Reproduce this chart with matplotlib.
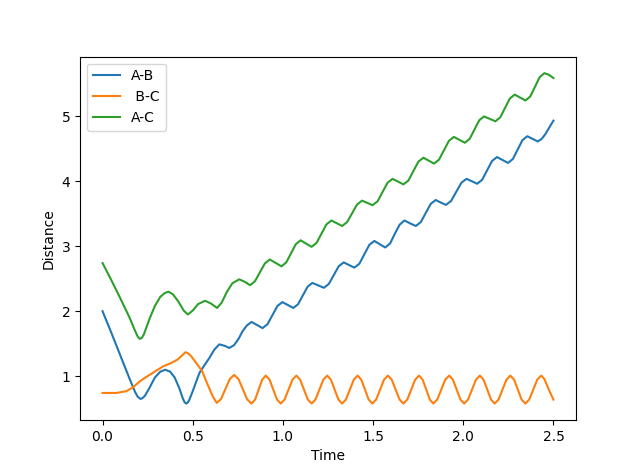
import matplotlib

matplotlib.use("Agg")
import matplotlib.pyplot as plt

# values
AB_T = [0.0, 0.05, 0.10, 0.15, 0.18, 0.195, 0.211, 0.222, 0.235, 0.26, 0.29, 0.32,
        0.348, 0.375, 0.40, 0.425, 0.445, 0.455, 0.464, 0.472, 0.48, 0.50, 0.537,
        0.565, 0.592, 0.62, 0.647, 0.675, 0.703, 0.73, 0.755, 0.776, 0.80, 0.826,
        0.855, 0.887, 0.9145, 0.942, 0.9695, 0.997, 1.0275, 1.058, 1.084, 1.1105,
        1.137, 1.163, 1.195, 1.227, 1.2545, 1.282, 1.3095, 1.337, 1.3665, 1.396,
        1.424, 1.4515, 1.479, 1.507, 1.537, 1.567, 1.594, 1.6205, 1.647, 1.674,
        1.7055, 1.737, 1.7645, 1.792, 1.8195, 1.847, 1.8755, 1.904, 1.9325, 1.961,
        1.9895, 2.018, 2.0475, 2.077, 2.1045, 2.132, 2.1595, 2.187, 2.2175, 2.248,
        2.275, 2.3015, 2.328, 2.355, 2.384, 2.413, 2.435, 2.457, 2.48, 2.5]
AB_D = [2.0, 1.66, 1.31, 0.96, 0.76, 0.685, 0.65, 0.665, 0.70, 0.82, 0.98, 1.07,
        1.10, 1.07, 0.98, 0.82, 0.66, 0.60, 0.58, 0.595, 0.63, 0.77, 1.05,
        1.17, 1.28, 1.41, 1.49, 1.47, 1.435, 1.48, 1.58, 1.69, 1.78, 1.835,
        1.79, 1.74, 1.80, 1.94, 2.08, 2.14, 2.095, 2.05, 2.108, 2.243,
        2.377, 2.435, 2.398, 2.36, 2.419, 2.555, 2.692, 2.75, 2.71, 2.67,
        2.73, 2.875, 3.02, 3.08, 3.03, 2.98, 3.04, 3.19, 3.33, 3.395,
        3.35, 3.31, 3.37, 3.51, 3.65, 3.71, 3.67, 3.635, 3.695, 3.835,
        3.975, 4.035, 3.998, 3.96, 4.02, 4.165, 4.31, 4.37, 4.325, 4.28,
        4.34, 4.485, 4.63, 4.69, 4.65, 4.61, 4.65, 4.73, 4.84, 4.93]

BC_T = [0.0, 0.077, 0.132, 0.169, 0.206, 0.243, 0.289, 0.335, 0.381, 0.418, 0.445,
        0.46, 0.475, 0.491, 0.519, 0.552, 0.583, 0.611, 0.633, 0.657, 0.6815, 0.706,
        0.730, 0.754, 0.778, 0.802, 0.826, 0.846, 0.8655, 0.885, 0.905, 0.926,
        0.9465, 0.967, 0.988, 1.0095, 1.031, 1.053, 1.0745, 1.0956, 1.1168, 1.1379,
        1.159, 1.1807, 1.2023, 1.224, 1.2456, 1.2662, 1.2868, 1.3074, 1.328, 1.3496,
        1.3713, 1.3929, 1.4145, 1.4348, 1.4551, 1.4753, 1.4956, 1.5172, 1.5388,
        1.5604, 1.582, 1.6035, 1.625, 1.6465, 1.668, 1.6898, 1.7115, 1.7333, 1.755,
        1.7748, 1.7945, 1.8143, 1.834, 1.856, 1.878, 1.90, 1.922, 1.9428, 1.9635,
        1.9843, 2.005, 2.0268, 2.0485, 2.0703, 2.092, 2.1125, 2.133, 2.1535, 2.174,
        2.1958, 2.2175, 2.2393, 2.261, 2.2818, 2.3025, 2.3233, 2.344, 2.366, 2.388,
        2.41, 2.432, 2.449, 2.466, 2.483, 2.5]
BC_D = [0.743, 0.743, 0.77, 0.83, 0.92, 0.99, 1.07, 1.15, 1.205, 1.26, 1.33,
        1.37, 1.35, 1.31, 1.205, 1.08, 0.87, 0.69, 0.59, 0.65, 0.805, 0.96,
        1.02, 0.955, 0.80, 0.645, 0.58, 0.643, 0.795, 0.947, 1.01, 0.947,
        0.795, 0.643, 0.58, 0.643, 0.795, 0.947, 1.01, 0.947, 0.795, 0.643,
        0.58, 0.643, 0.795, 0.947, 1.01, 0.947, 0.795, 0.643, 0.58, 0.643,
        0.795, 0.947, 1.01, 0.947, 0.795, 0.643, 0.58, 0.643, 0.795,
        0.947, 1.01, 0.947, 0.795, 0.643, 0.58, 0.643, 0.795, 0.947, 1.01,
        0.947, 0.795, 0.643, 0.58, 0.643, 0.795, 0.947, 1.01, 0.947, 0.795,
        0.643, 0.58, 0.643, 0.795, 0.947, 1.01, 0.947, 0.795, 0.643, 0.58,
        0.643, 0.795, 0.947, 1.01, 0.947, 0.795, 0.643, 0.58, 0.643, 0.795,
        0.947, 1.01, 0.96, 0.85, 0.74, 0.64]

AC_T = [0.0, 0.05, 0.10, 0.15, 0.18, 0.195, 0.206, 0.218, 0.23, 0.26, 0.29, 0.32,
        0.345, 0.366, 0.39, 0.42, 0.45, 0.473, 0.50, 0.53, 0.568, 0.60, 0.635, 0.66,
        0.69, 0.72, 0.758, 0.79, 0.818, 0.845, 0.8725, 0.90, 0.927, 0.9595, 0.992,
        1.0185, 1.045, 1.0715, 1.098, 1.1285, 1.159, 1.1865, 1.214, 1.2415, 1.269,
        1.2985, 1.328, 1.356, 1.3835, 1.411, 1.439, 1.468, 1.497, 1.525, 1.5525,
        1.58, 1.608, 1.638, 1.668, 1.696, 1.7235, 1.751, 1.779, 1.8085, 1.838,
        1.8655, 1.893, 1.9205, 1.948, 1.9785, 2.009, 2.0355, 2.062, 2.0885, 2.115,
        2.1465, 2.178, 2.205, 2.2315, 2.258, 2.285, 2.315, 2.345, 2.371, 2.3975,
        2.424, 2.450, 2.475, 2.5]
AC_D = [2.74, 2.47, 2.19, 1.90, 1.70, 1.61, 1.575, 1.59, 1.65, 1.88, 2.08, 2.22,
        2.28, 2.30, 2.26, 2.15, 2.01, 1.95, 2.01, 2.11, 2.16, 2.12, 2.05, 2.13,
        2.30, 2.43, 2.49, 2.45, 2.40, 2.46, 2.598, 2.735, 2.795, 2.743, 2.69,
        2.75, 2.89, 3.03, 3.09, 3.04, 2.99, 3.05, 3.193, 3.335, 3.395,
        3.353, 3.31, 3.37, 3.505, 3.64, 3.70, 3.665, 3.63, 3.69, 3.833,
        3.975, 4.035, 3.993, 3.95, 4.01, 4.155, 4.30, 4.36, 4.315, 4.27,
        4.33, 4.475, 4.62, 4.68, 4.635, 4.59, 4.65, 4.793, 4.935, 4.995,
        4.958, 4.92, 4.98, 5.125, 5.27, 5.33, 5.285, 5.24, 5.30, 5.45,
        5.60, 5.66, 5.635, 5.585]

LABELS = ["A-B", " B-C", "A-C"]


def main():
    fig, ax = plt.subplots(figsize=(6.4, 4.72), dpi=100)
    ax.plot(AB_T, AB_D, label=LABELS[0])
    ax.plot(BC_T, BC_D, label=LABELS[1])
    ax.plot(AC_T, AC_D, label=LABELS[2])
    ax.set_xlabel("Time")
    ax.set_ylabel("Distance")
    ax.legend(loc="upper left")
    fig.savefig("out.png", dpi=100)
    plt.close(fig)


if __name__ == "__main__":
    main()
